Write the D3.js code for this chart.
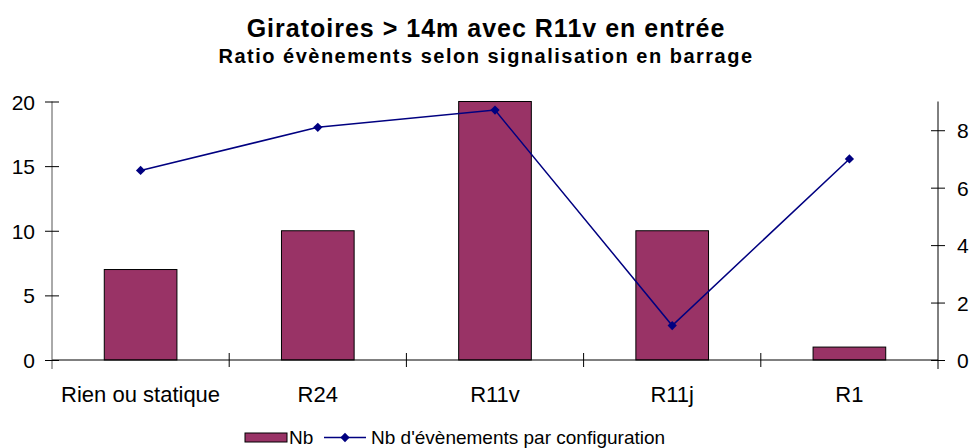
<!DOCTYPE html>
<html lang="fr">
<head>
  <meta charset="UTF-8">
  <title>Giratoires > 14m avec R11v en entrée</title>
  <script src="https://cdn.jsdelivr.net/npm/d3@7"></script>
  <style>
    body { margin: 0; background: #fff; }
    svg text { font-family: "Liberation Sans", Arial, sans-serif; fill: #000; }
    .title { font-size: 25px; font-weight: bold; letter-spacing: 1px; }
    .subtitle { font-size: 20px; font-weight: bold; letter-spacing: 1.5px; }
    .tick text { font-size: 21px; }
    .cat-label { font-size: 22px; }
    .legend text { font-size: 19px; }
  </style>
</head>
<body>
  <div id="chart"></div>
  <script>
    // Data
    const categories = ['Rien ou statique', 'R24', 'R11v', 'R11j', 'R1'];
    const nbValues = [7, 10, 20, 10, 1];
    const ratioValues = [6.6, 8.1, 8.7, 1.2, 7.0];
    const leftTicks = [0, 5, 10, 15, 20];
    const rightTicks = [0, 2, 4, 6, 8];

    const width = 972, height = 448;
    const margin = { top: 101.5, right: 34, bottom: 88, left: 52 };
    const innerW = width - margin.left - margin.right;
    const innerH = height - margin.top - margin.bottom;

    const svg = d3.select('#chart')
      .append('svg')
        .attr('width', width)
        .attr('height', height);

    // Titles
    svg.append('text')
      .attr('class', 'title')
      .attr('x', 486).attr('y', 37)
      .attr('text-anchor', 'middle')
      .text('Giratoires > 14m avec R11v en entrée');
    svg.append('text')
      .attr('class', 'subtitle')
      .attr('x', 486).attr('y', 63)
      .attr('text-anchor', 'middle')
      .text('Ratio évènements selon signalisation en barrage');

    const g = svg.append('g')
      .attr('transform', `translate(${margin.left},${margin.top})`);

    const x = d3.scaleBand()
      .domain(categories)
      .range([0, innerW])
      .paddingInner(0.59)
      .paddingOuter(0.295);

    const yLeft = d3.scaleLinear().domain([0, 20]).range([innerH, 0]);
    const yRight = d3.scaleLinear().domain([0, 9]).range([innerH, 0]);

    // Bars
    g.append('g')
      .selectAll('rect')
      .data(nbValues)
      .enter()
      .append('rect')
        .attr('x', (d, i) => x(categories[i]))
        .attr('y', d => yLeft(d))
        .attr('width', x.bandwidth())
        .attr('height', d => innerH - yLeft(d))
        .style('fill', '#993366')
        .style('stroke', '#000')
        .style('stroke-width', 1);

    // X axis: boundary ticks between categories
    const step = innerW / categories.length;
    const xAxisG = g.append('g').attr('transform', `translate(0,${innerH})`);
    xAxisG.append('line')
      .attr('x1', 0).attr('x2', innerW)
      .attr('stroke', '#000');
    xAxisG.selectAll('line.bound')
      .data(d3.range(1, categories.length))
      .enter()
      .append('line')
        .attr('class', 'bound')
        .attr('x1', d => d * step).attr('x2', d => d * step)
        .attr('y1', -7).attr('y2', 7)
        .attr('stroke', '#000');
    xAxisG.selectAll('text')
      .data(categories)
      .enter()
      .append('text')
        .attr('class', 'cat-label')
        .attr('x', d => x(d) + x.bandwidth() / 2)
        .attr('y', 42)
        .attr('text-anchor', 'middle')
        .text(d => d);

    // Left axis
    const leftAxis = g.append('g')
      .call(d3.axisLeft(yLeft).tickValues(leftTicks).tickSize(7).tickSizeOuter(0));
    leftAxis.select('.domain').attr('d', `M0,0V${innerH + 9}`).attr('stroke', '#555');
    leftAxis.selectAll('.tick line').attr('x2', 7).attr('x1', -7).attr('stroke', '#000');
    leftAxis.selectAll('.tick text').attr('x', -17).attr('dy', '0.36em');

    // Right axis
    const rightAxis = g.append('g')
      .attr('transform', `translate(${innerW},0)`)
      .call(d3.axisRight(yRight).tickValues(rightTicks).tickSize(7).tickSizeOuter(0));
    rightAxis.select('.domain').attr('d', `M0,0V${innerH + 9}`).attr('stroke', '#000');
    rightAxis.selectAll('.tick line').attr('x1', -7).attr('x2', 7).attr('stroke', '#000');
    rightAxis.selectAll('.tick text').attr('x', 19).attr('dy', '0.36em');

    // Line series
    const line = d3.line()
      .x((d, i) => x(categories[i]) + x.bandwidth() / 2)
      .y(d => yRight(d));
    g.append('path')
      .datum(ratioValues)
      .attr('d', line)
      .attr('fill', 'none')
      .attr('stroke', '#000080')
      .attr('stroke-width', 1.5);

    const diamond = d3.symbol().type(d3.symbolDiamond2).size(55);
    g.append('g')
      .selectAll('path')
      .data(ratioValues)
      .enter()
      .append('path')
        .attr('d', diamond)
        .attr('transform', (d, i) => `translate(${x(categories[i]) + x.bandwidth() / 2},${yRight(d)})`)
        .attr('fill', '#000080');

    // Legend
    const legend = svg.append('g').attr('class', 'legend');
    legend.append('rect')
      .attr('x', 245).attr('y', 433).attr('width', 42).attr('height', 9)
      .style('fill', '#993366').style('stroke', '#000');
    legend.append('text').attr('x', 289).attr('y', 444).text('Nb');
    legend.append('line')
      .attr('x1', 324).attr('x2', 366).attr('y1', 437.5).attr('y2', 437.5)
      .attr('stroke', '#000080').attr('stroke-width', 1.5);
    legend.append('path')
      .attr('d', diamond)
      .attr('transform', 'translate(345,437.5)')
      .attr('fill', '#000080');
    legend.append('text').attr('x', 371).attr('y', 444).text("Nb d'évènements par configuration");
  </script>
</body>
</html>
